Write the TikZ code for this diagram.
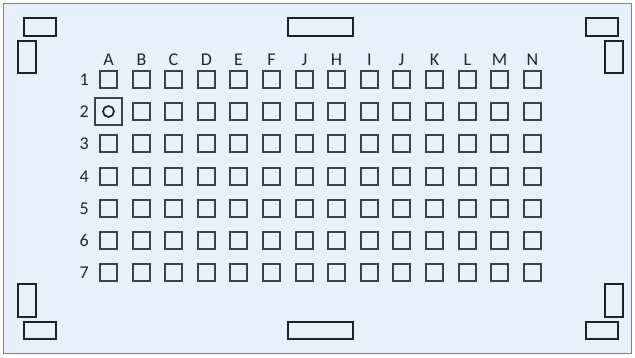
\documentclass[tikz,border=0pt]{standalone}
\usepackage{fontspec}
\setmainfont{Carlito}
\definecolor{padcol}{RGB}{30,34,44}
\definecolor{cellcol}{RGB}{64,64,68}
\definecolor{bgcol}{RGB}{234,240,251}
\begin{document}
\begin{tikzpicture}[x=1pt,y=-1pt,
  cell/.style={draw=cellcol,line width=1.6pt,minimum size=17pt,inner sep=0pt},
  selcell/.style={draw=cellcol,line width=1.6pt,minimum size=27pt,inner sep=0pt},
  ringmark/.style={draw=padcol,line width=1.7pt,circle,minimum size=11pt,inner sep=0pt},
  lbl/.style={font=\fontsize{18}{18}\selectfont,text=black!85,inner sep=0pt},
  pad/.style={draw=padcol,line width=1.6pt}]
\useasboundingbox (0,0) rectangle (635,358);
\fill[white] (0,0) rectangle (635,358);
\draw[draw=black!50,line width=1.5pt,fill=bgcol] (3.5,3.5) rectangle (631.5,353.5);
% corner and edge pads
\draw[pad] (24,18) rectangle (56,36);
\draw[pad] (18,41) rectangle (36,73);
\draw[pad] (288,18) rectangle (353,36);
\draw[pad] (586,18) rectangle (618,36);
\draw[pad] (605,41) rectangle (623,73);
\draw[pad] (18,284) rectangle (36,317);
\draw[pad] (24,322) rectangle (56,339);
\draw[pad] (288,322) rectangle (353,339);
\draw[pad] (605,284) rectangle (623,317);
\draw[pad] (586,322) rectangle (618,339);
% grid
\foreach \c [count=\i from 0] in {A,B,C,D,E,F,J,H,I,J,K,L,M,N}{
  \pgfmathsetmacro{\xx}{108.5+round(32.6*\i)}
  \node[lbl,anchor=base] (col\i) at (\xx,66) {\c};
}
\foreach \r [count=\j from 0] in {1,...,7}{
  \pgfmathsetmacro{\yy}{79.5+round(32.17*\j)}
  \node[lbl,anchor=base east] (row\j) at (89,\yy+6) {\r};
  \foreach \i in {0,...,13}{
    \pgfmathsetmacro{\xx}{108.5+round(32.6*\i)}
    \ifnum\i=0 \ifnum\j=1
      \node[selcell] (c\i-\j) at (\xx,\yy) {};
      \node[ringmark] (m) at (c\i-\j) {};
    \else
      \node[cell] (c\i-\j) at (\xx,\yy) {};
    \fi
    \else
      \node[cell] (c\i-\j) at (\xx,\yy) {};
    \fi
  }
}
\end{tikzpicture}
\end{document}
